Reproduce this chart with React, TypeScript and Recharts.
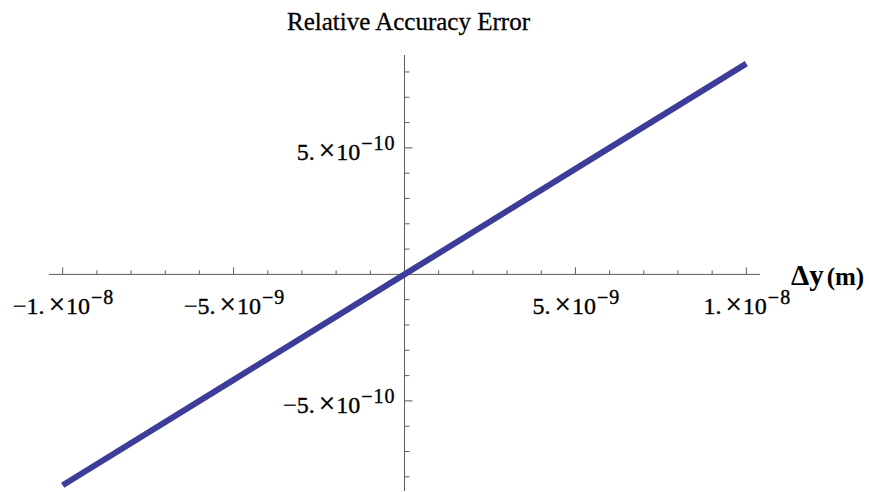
import React from "react";
import { LineChart, Line, XAxis, YAxis, ReferenceLine, ReferenceDot } from "recharts";

// Relative accuracy error as a function of the displacement Δy (m)
const dyValues = [-1e-8, -5e-9, 0, 5e-9, 1e-8];
const errorValues = [-8.33e-10, -4.17e-10, 0, 4.17e-10, 8.33e-10];

// Axis ranges
const xDomain: [number, number] = [-1.04e-8, 1.04e-8];
const yDomain: [number, number] = [-8.56e-10, 8.67e-10];

// Tick positions (every 1e-9 on Δy, every 1e-10 on the error axis)
const xMajorTicks = [-1e-8, -5e-9, 5e-9, 1e-8];
const xMinorTicks = [
  -9e-9, -8e-9, -7e-9, -6e-9, -4e-9, -3e-9, -2e-9, -1e-9,
  1e-9, 2e-9, 3e-9, 4e-9, 6e-9, 7e-9, 8e-9, 9e-9,
];
const yMajorTicks = [-5e-10, 5e-10];
const yMinorTicks = [
  -8e-10, -7e-10, -6e-10, -4e-10, -3e-10, -2e-10, -1e-10,
  1e-10, 2e-10, 3e-10, 4e-10, 6e-10, 7e-10, 8e-10,
];

// Tick labels in Mathematica-style scientific notation
const xLabelMantissas = ["\u22121.", "\u22125.", "5.", "1."];
const xLabelExponents = ["\u22128", "\u22129", "\u22129", "\u22128"];
const yLabelMantissas = ["\u22125.", "5."];
const yLabelExponents = ["\u221210", "\u221210"];

const title = "Relative Accuracy Error";
const xAxisName = "\u0394y";
const xAxisUnit = "(m)";

const data = dyValues.map((dy, i) => ({ dy, err: errorValues[i] }));

// Tick lengths expressed in the units of the perpendicular axis
const xMajorLen = 2.77e-11;
const xMinorLen = 1.58e-11;
const yMajorLen = 2.34e-10;
const yMinorLen = 1.46e-10;

const AXIS_COLOR = "#5c5c5c";
const LINE_COLOR = "#3d3d99";
const FONT = "'Liberation Serif', 'Times New Roman', serif";

function SciText(props: {
  x: number;
  y: number;
  mantissa: string;
  exponent: string;
  anchor: "start" | "middle" | "end";
}) {
  const { x, y, mantissa, exponent, anchor } = props;
  return (
    <text
      x={x}
      y={y}
      textAnchor={anchor}
      fontFamily={FONT}
      fontSize={24}
      fill="#000"
      stroke="#000"
      strokeWidth={0.35}
    >
      <tspan>{mantissa}</tspan>
      <tspan dx={4} fontSize={29}>{"\u00d7"}</tspan>
      <tspan dx={1}>10</tspan>
      <tspan dy={-10} dx={1} fontSize={20} letterSpacing={1}>
        {exponent}
      </tspan>
    </text>
  );
}

export default function App() {
  return (
    <div
      style={{
        position: "absolute",
        left: 0,
        top: 0,
        width: 869,
        height: 492,
        background: "#fff",
      }}
    >
      <LineChart
        width={869}
        height={492}
        data={data}
        margin={{ top: 55, right: 109, bottom: 1, left: 49 }}
      >
        <XAxis type="number" dataKey="dy" domain={xDomain} allowDataOverflow hide />
        <YAxis type="number" dataKey="err" domain={yDomain} allowDataOverflow hide />

        {/* axes through the origin */}
        <ReferenceLine y={0} stroke={AXIS_COLOR} strokeWidth={1} />
        <ReferenceLine x={0} stroke={AXIS_COLOR} strokeWidth={1} />

        {xMajorTicks.map((v) => (
          <ReferenceLine
            key={`xM${v}`}
            segment={[{ x: v, y: 0 }, { x: v, y: xMajorLen }]}
            stroke={AXIS_COLOR}
          />
        ))}
        {xMinorTicks.map((v) => (
          <ReferenceLine
            key={`xm${v}`}
            segment={[{ x: v, y: 0 }, { x: v, y: xMinorLen }]}
            stroke={AXIS_COLOR}
          />
        ))}
        {yMajorTicks.map((v) => (
          <ReferenceLine
            key={`yM${v}`}
            segment={[{ x: 0, y: v }, { x: yMajorLen, y: v }]}
            stroke={AXIS_COLOR}
          />
        ))}
        {yMinorTicks.map((v) => (
          <ReferenceLine
            key={`ym${v}`}
            segment={[{ x: 0, y: v }, { x: yMinorLen, y: v }]}
            stroke={AXIS_COLOR}
          />
        ))}

        {xMajorTicks.map((v, i) => (
          <ReferenceDot
            key={`xl${v}`}
            x={v}
            y={0}
            r={0}
            ifOverflow="visible"
            shape={(p: any) => (
              <SciText
                x={p.cx + 1}
                y={p.cy + 40}
                mantissa={xLabelMantissas[i]}
                exponent={xLabelExponents[i]}
                anchor="middle"
              />
            )}
          />
        ))}
        {yMajorTicks.map((v, i) => (
          <ReferenceDot
            key={`yl${v}`}
            x={0}
            y={v}
            r={0}
            ifOverflow="visible"
            shape={(p: any) => (
              <SciText
                x={p.cx - 9}
                y={p.cy + 12}
                mantissa={yLabelMantissas[i]}
                exponent={yLabelExponents[i]}
                anchor="end"
              />
            )}
          />
        ))}

        {/* axis name to the right of the horizontal axis */}
        <ReferenceDot
          x={xDomain[1]}
          y={0}
          r={0}
          ifOverflow="visible"
          shape={(p: any) => (
            <text
              x={p.cx + 31}
              y={p.cy + 10.5}
              fontFamily={FONT}
              fontWeight="bold"
              fill="#000"
            >
              <tspan fontSize={29}>{xAxisName}</tspan>
              <tspan dx={3} fontSize={25}>
                {xAxisUnit}
              </tspan>
            </text>
          )}
        />

        {/* chart title */}
        <ReferenceDot
          x={0}
          y={yDomain[1]}
          r={0}
          ifOverflow="visible"
          shape={(p: any) => (
            <text
              x={p.cx + 4}
              y={p.cy - 25}
              textAnchor="middle"
              fontFamily={FONT}
              fontSize={25}
              fill="#000"
              stroke="#000"
              strokeWidth={0.3}
            >
              {title}
            </text>
          )}
        />

        <Line
          type="linear"
          dataKey="err"
          stroke={LINE_COLOR}
          strokeWidth={6}
          dot={false}
          activeDot={false}
          isAnimationActive={false}
        />
      </LineChart>
    </div>
  );
}
